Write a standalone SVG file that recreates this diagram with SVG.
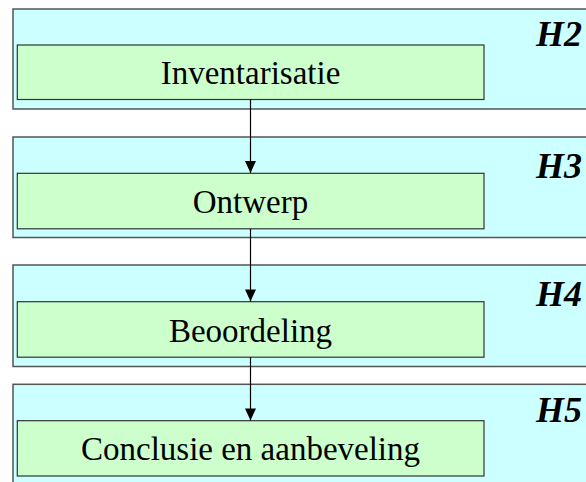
<svg xmlns="http://www.w3.org/2000/svg" width="586" height="482" viewBox="0 0 586 482">
<style>
.outer{fill:#CCFFFF;stroke:#555555;stroke-width:1.5}
.inner{fill:#CCFFCC;stroke:#333333;stroke-width:1.2}
.lbl{font-family:"Liberation Serif","Times New Roman",serif;font-size:33px;fill:#000;text-anchor:middle}
.h{font-family:"Liberation Serif","Times New Roman",serif;font-size:36px;font-weight:bold;font-style:italic;fill:#000;text-anchor:end}
.conn{stroke:#000;stroke-width:1.2;fill:none}
</style>
<defs>
<marker id="arr" viewBox="0 0 12 11" refX="12" refY="5.5" markerWidth="12" markerHeight="11" markerUnits="userSpaceOnUse" orient="auto">
<path d="M0,0 L12,5.5 L0,11 Z" fill="#000"/>
</marker>
</defs>
<g id="H2">
<rect class="outer" x="13" y="9" width="590" height="100"/>
<text class="h" x="582" y="46">H2</text>
</g>
<g id="H3">
<rect class="outer" x="13" y="137" width="590" height="100.5"/>
<text class="h" x="582" y="178">H3</text>
</g>
<g id="H4">
<rect class="outer" x="13" y="265" width="590" height="101.5"/>
<text class="h" x="582" y="305.5">H4</text>
</g>
<g id="H5">
<rect class="outer" x="13" y="384.3" width="590" height="102"/>
<text class="h" x="582" y="421.5">H5</text>
</g>
<g id="inventarisatie">
<rect class="inner" x="17.3" y="45" width="466.7" height="54.5"/>
<text class="lbl" x="250.5" y="84.3">Inventarisatie</text>
</g>
<g id="ontwerp">
<rect class="inner" x="17.3" y="173.3" width="466.7" height="55.5"/>
<text class="lbl" x="250.5" y="213.3">Ontwerp</text>
</g>
<g id="beoordeling">
<rect class="inner" x="17.3" y="301.7" width="466.7" height="55.5"/>
<text class="lbl" x="250.5" y="341.5">Beoordeling</text>
</g>
<g id="conclusie">
<rect class="inner" x="17.3" y="420.7" width="466.7" height="55.3"/>
<text class="lbl" x="250.5" y="460">Conclusie en aanbeveling</text>
</g>
<g id="connectors">
<line class="conn" x1="250.5" y1="99.5" x2="250.5" y2="173" marker-end="url(#arr)"/>
<line class="conn" x1="250.5" y1="228.8" x2="250.5" y2="301.4" marker-end="url(#arr)"/>
<line class="conn" x1="250.5" y1="357.2" x2="250.5" y2="420.4" marker-end="url(#arr)"/>
</g>
</svg>
